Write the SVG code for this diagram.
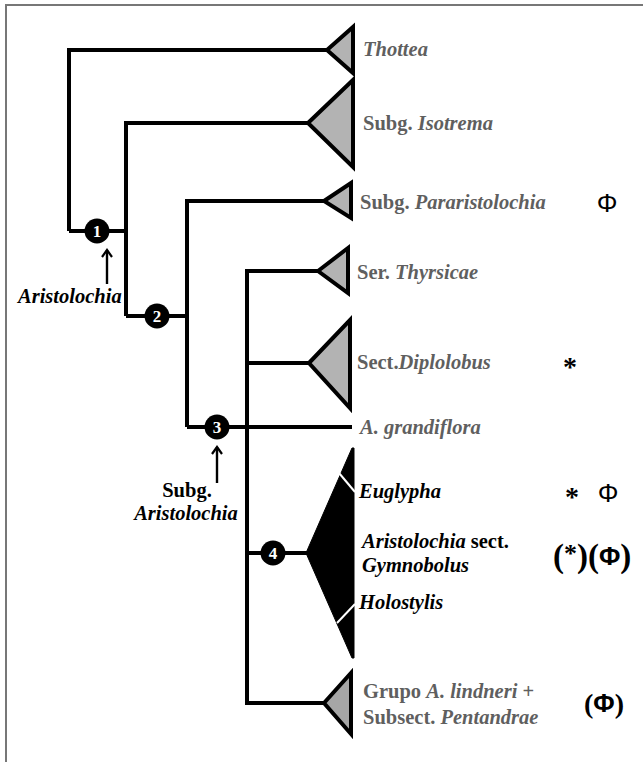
<svg xmlns="http://www.w3.org/2000/svg" width="643" height="762" viewBox="0 0 643 762">
<style>
.ln{fill:none;stroke:#000;stroke-width:4;stroke-linejoin:miter;stroke-linecap:butt}
.tri{fill:#b3b3b3;stroke:#000;stroke-width:4;stroke-linejoin:miter}
.t{font-family:"Liberation Serif","Times New Roman",serif;font-weight:bold;font-size:20.5px}
.g{fill:#5f5f5f}
.k{fill:#000}
.i{font-style:italic}
.nd{fill:#000}
.nt{font-family:"Liberation Serif","Times New Roman",serif;font-weight:bold;font-size:17px;fill:#fff;text-anchor:middle}
.phi{font-family:"Liberation Sans",Arial,sans-serif;font-size:26px;fill:#000}
.ast{font-family:"Liberation Serif","Times New Roman",serif;font-weight:bold;font-size:28px;fill:#000}
.par{font-family:"Liberation Serif","Times New Roman",serif;font-weight:bold;font-size:32px;fill:#000}
.ar{fill:none;stroke:#000;stroke-width:2.4}
</style>
<defs>
<marker id="ah" markerWidth="12" markerHeight="12" refX="10" refY="6" orient="auto" markerUnits="userSpaceOnUse" viewBox="0 0 12 12">
<path d="M3,1 L10,6 L3,11" fill="none" stroke="#000" stroke-width="2.2"/>
</marker>
</defs>
<rect x="0" y="0" width="643" height="762" fill="#fff"/>
<path d="M6,762 V5 H643" fill="none" stroke="#777" stroke-width="2"/>

<g id="connectors">
<path class="ln" d="M69,231 V50 H327"/>
<path class="ln" d="M69,231 H126"/>
<path class="ln" d="M126,316 V123 H308"/>
<path class="ln" d="M126,316 H187"/>
<path class="ln" d="M187,427 V201 H324"/>
<path class="ln" d="M187,427 H352"/>
<path class="ln" d="M247,705 V271 H318"/>
<path class="ln" d="M249,363 H309"/>
<path class="ln" d="M247,553 H307"/>
<path class="ln" d="M245,703 H324"/>
<line class="ar" x1="107" y1="284" x2="107" y2="250" marker-end="url(#ah)"/>
<line class="ar" x1="217" y1="483" x2="217" y2="447" marker-end="url(#ah)"/>
</g>

<g id="node1"><circle class="nd" cx="97" cy="231" r="12.5"/><text class="nt" x="97" y="237">1</text></g>
<g id="node2"><circle class="nd" cx="157" cy="316" r="12.5"/><text class="nt" x="157" y="322">2</text></g>
<g id="node3"><circle class="nd" cx="217" cy="427" r="12.5"/><text class="nt" x="217" y="433">3</text></g>
<g id="node4"><circle class="nd" cx="273" cy="553" r="12.5"/><text class="nt" x="273" y="559">4</text></g>

<g id="label-aristolochia"><text class="t k i" x="18" y="303">Aristolochia</text></g>
<g id="label-subg-aristolochia">
<text class="t k" x="187" y="497" text-anchor="middle">Subg.</text>
<text class="t k i" x="186" y="520" text-anchor="middle">Aristolochia</text>
</g>

<g id="thottea">
<polygon class="tri" points="327,50 353,27 353,73"/>
<text class="t g i" x="363" y="56">Thottea</text>
</g>
<g id="isotrema">
<polygon class="tri" points="308,123 353,80 353,167"/>
<text class="t g" x="363" y="130">Subg. <tspan class="i">Isotrema</tspan></text>
</g>
<g id="pararistolochia">
<polygon class="tri" points="324,201 351,183 351,218"/>
<text class="t g" x="360" y="209">Subg. <tspan class="i">Pararistolochia</tspan></text>
<text class="phi" x="607" y="212" text-anchor="middle">Φ</text>
</g>
<g id="thyrsicae">
<polygon class="tri" points="318,271 348,248 348,293"/>
<text class="t g" x="357" y="279">Ser. <tspan class="i">Thyrsicae</tspan></text>
</g>
<g id="diplolobus">
<polygon class="tri" points="309,363 350,320 350,408"/>
<text class="t g" x="357" y="369">Sect.<tspan class="i">Diplolobus</tspan></text>
<text class="ast" x="570" y="376" text-anchor="middle">*</text>
</g>
<g id="grandiflora">
<text class="t g i" x="360" y="434">A. grandiflora</text>
</g>
<g id="gymnobolus">
<polygon points="352,448 354,448 354,658 352,658 306,553" fill="#000" stroke="#000" stroke-width="1"/>
<line x1="339" y1="473" x2="355" y2="492" stroke="#fff" stroke-width="2"/>
<line x1="337" y1="623" x2="355" y2="604" stroke="#fff" stroke-width="2"/>
<text class="t k i" x="359" y="498">Euglypha</text>
<text class="t k" x="362" y="548"><tspan class="i">Aristolochia</tspan> sect.</text>
<text class="t k i" x="362" y="572">Gymnobolus</text>
<text class="t k i" x="359" y="609">Holostylis</text>
<text class="ast" x="572" y="506" text-anchor="middle">*</text>
<text class="phi" x="608" y="502" text-anchor="middle">Φ</text>
<text class="par" x="553" y="567" style="font-size:33px">(<tspan class="ast" style="font-size:26px" dy="-5">*</tspan><tspan dy="5">)(</tspan><tspan class="phi" dy="-2">Φ</tspan><tspan dy="2">)</tspan></text>
</g>
<g id="grupo-lindneri">
<polygon class="tri" points="324,703 351,673 351,734" style="fill:#a6a6a6"/>
<text class="t g" x="363" y="698">Grupo <tspan class="i">A. lindneri</tspan> +</text>
<text class="t g" x="363" y="724">Subsect. <tspan class="i">Pentandrae</tspan></text>
<text class="par" x="584" y="713" style="font-size:28px">(<tspan class="phi" dy="-1">Φ</tspan><tspan dy="1">)</tspan></text>
</g>
</svg>
